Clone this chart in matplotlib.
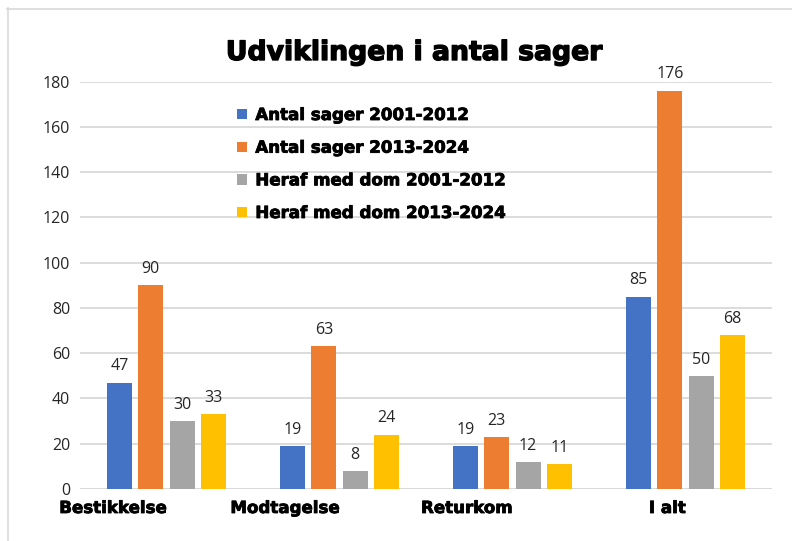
import matplotlib
matplotlib.use("Agg")
import matplotlib.pyplot as plt
import matplotlib.patheffects as pe
from matplotlib.lines import Line2D
import numpy as np

categories = ["Bestikkelse", "Modtagelse", "Returkom", "I alt"]
series_names = ["Antal sager 2001-2012", "Antal sager 2013-2024",
                "Heraf med dom 2001-2012", "Heraf med dom 2013-2024"]
antal_2001_2012 = [47, 19, 19, 85]
antal_2013_2024 = [90, 63, 23, 176]
dom_2001_2012 = [30, 8, 12, 50]
dom_2013_2024 = [33, 24, 11, 68]
yticks = [0, 20, 40, 60, 80, 100, 120, 140, 160, 180]
title = "Udviklingen i antal sager"

colors = ["#4472C4", "#ED7D31", "#A5A5A5", "#FFC000"]
series = [antal_2001_2012, antal_2013_2024, dom_2001_2012, dom_2013_2024]

W, H = 792, 541
fig = plt.figure(figsize=(W / 100, H / 100), dpi=100)

def fx(px):
    return px / W

def fy(py):
    return 1 - py / H

grey = "#D9D9D9"
fig.add_artist(Line2D([fx(7), 1.0], [fy(8.5), fy(8.5)], color=grey, lw=1.2, transform=fig.transFigure))
fig.add_artist(Line2D([fx(7.5), fx(7.5)], [fy(8), 0.0], color=grey, lw=1.2, transform=fig.transFigure))

left, right = 80, 772
top, bottom = 81.7, 489
ax = fig.add_axes([fx(left), fy(bottom), fx(right) - fx(left), fy(top) - fy(bottom)])

x = np.arange(len(categories))
bw = 0.1445
step = 0.181
heavy = [pe.withStroke(linewidth=0.6, foreground="black")]
for i, (vals, c, name) in enumerate(zip(series, colors, series_names)):
    bars = ax.bar(x + (i - 1.5) * step, vals, width=bw, color=c, label=name, zorder=3)
    ax.bar_label(bars, padding=6, fontsize=11.5, family="Open Sans", color="#262626")

ax.set_xlim(-0.5, len(categories) - 0.5)
ax.set_ylim(0, 180)
ax.set_yticks(yticks)
ax.set_yticklabels([str(v) for v in yticks], family="Open Sans", fontsize=11.5, color="#262626")
ax.tick_params(axis="y", length=0, pad=7)
ax.set_xticks([])
for s in ax.spines.values():
    s.set_visible(False)
ax.grid(axis="y", color=grey, lw=1.3, zorder=0)
ax.axhline(0, color=grey, lw=2.0, zorder=2)

ylab = -(508 - bottom) / (bottom - top)
for xi, cat in zip(x, categories):
    ax.text(xi, ylab, cat, transform=ax.get_xaxis_transform(), ha="right", va="center",
            fontsize=12, fontweight="bold", family="DejaVu Sans",
            path_effects=heavy)

fig.text(fx(414), fy(53), title, ha="center", va="center", fontsize=19.2,
         fontweight="bold", family="DejaVu Sans",
         path_effects=[pe.withStroke(linewidth=1.0, foreground="black")])

leg = ax.legend(loc="upper left", bbox_to_anchor=(fx(222), fy(91)), bbox_transform=fig.transFigure,
                frameon=False, handlelength=0.6, handleheight=0.6, handletextpad=0.5,
                labelspacing=0.88, prop={"family": "DejaVu Sans", "weight": "bold", "size": 12})
for t in leg.get_texts():
    t.set_path_effects(heavy)

fig.savefig("out.png", dpi=100)
